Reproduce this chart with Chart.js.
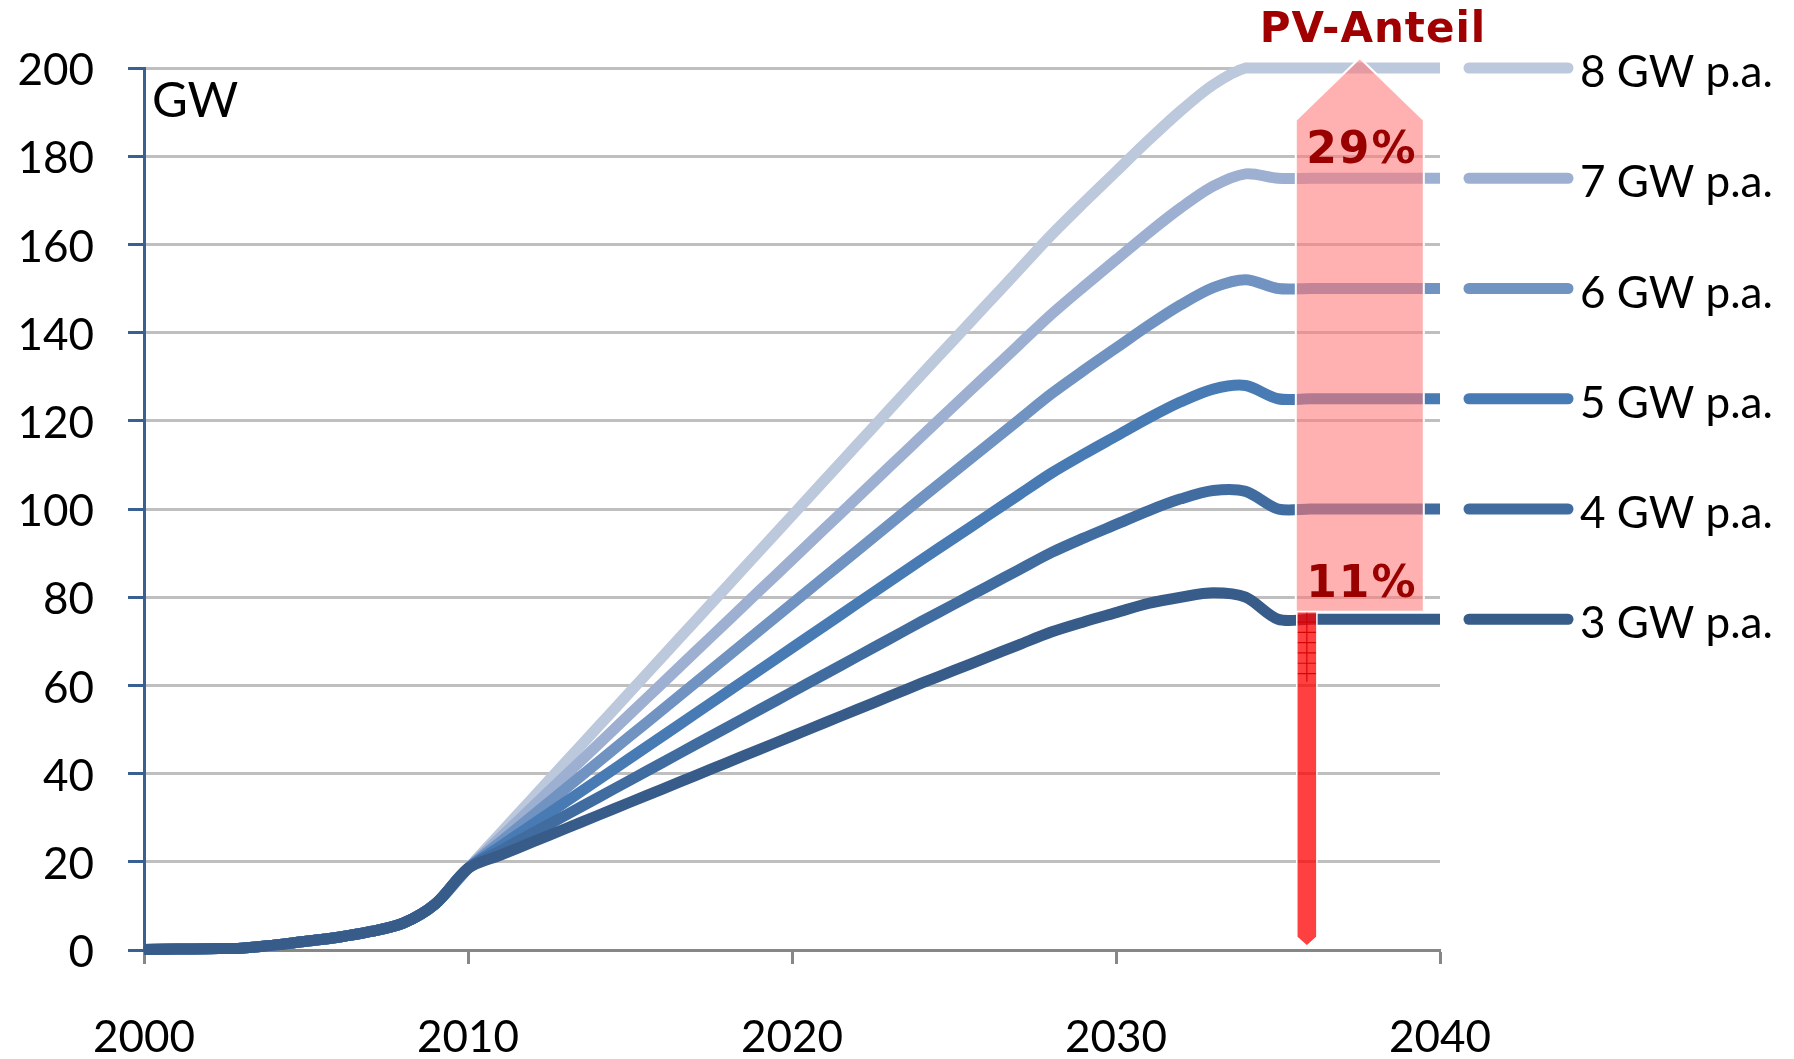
<!DOCTYPE html>
<html lang="de">
<head>
<meta charset="utf-8">
<title>PV-Ausbau</title>
<script src="https://cdn.jsdelivr.net/npm/chart.js@4.4.1/dist/chart.umd.min.js"></script>
<style>
  html, body { margin: 0; padding: 0; background: #ffffff; }
  #wrap { width: 1794px; height: 1059px; }
</style>
</head>
<body>
<div id="wrap"><canvas id="c" width="1794" height="1059"></canvas></div>
<script>
// Years on the x axis
const years = [2000, 2001, 2002, 2003, 2004, 2005, 2006, 2007, 2008, 2009, 2010,
  2011, 2012, 2013, 2014, 2015, 2016, 2017, 2018, 2019, 2020,
  2021, 2022, 2023, 2024, 2025, 2026, 2027, 2028, 2029, 2030,
  2031, 2032, 2033, 2034, 2035, 2036, 2037, 2038, 2039, 2040];

// Installed PV capacity in GW, 2000–2010 (shared by all scenarios)
const history = [0.1, 0.2, 0.3, 0.4, 1.1, 2.0, 2.9, 4.2, 6.1, 10.5, 18.5];

// Scenarios 2011–2040, by annual additions
const gw3 = [21.5, 24.5, 27.5, 30.5, 33.5, 36.5, 39.5, 42.5, 45.5, 48.5, 51.5, 54.5, 57.5, 60.5,
  63.4, 66.3, 69.2, 72.1, 74.4, 76.5, 78.6, 80.0, 81.0, 80.0, 75, 75, 75, 75, 75, 75];
const gw4 = [22.5, 26.5, 30.5, 34.5, 38.5, 42.5, 46.5, 50.5, 54.5, 58.5, 62.5, 66.5, 70.5, 74.5,
  78.4, 82.3, 86.2, 90.1, 93.4, 96.5, 99.6, 102.3, 104.2, 104.0, 100, 100, 100, 100, 100, 100];
const gw5 = [23.5, 28.5, 33.5, 38.5, 43.5, 48.5, 53.5, 58.5, 63.5, 68.5, 73.5, 78.5, 83.5, 88.5,
  93.4, 98.3, 103.2, 108.1, 112.4, 116.5, 120.6, 124.3, 127.2, 128.0, 125, 125, 125, 125, 125, 125];
const gw6 = [24.5, 30.5, 36.5, 42.5, 48.5, 54.5, 60.5, 66.5, 72.5, 78.5, 84.5, 90.5, 96.5, 102.5,
  108.4, 114.3, 120.2, 126.1, 131.4, 136.5, 141.6, 146.3, 150.2, 152.0, 150, 150, 150, 150, 150, 150];
const gw7 = [25.5, 32.5, 39.5, 46.5, 53.5, 60.5, 67.5, 74.5, 81.5, 88.5, 95.5, 102.5, 109.5, 116.5,
  123.4, 130.3, 137.2, 144.1, 150.4, 156.5, 162.6, 168.3, 173.2, 176.0, 175, 175, 175, 175, 175, 175];
const gw8 = [26.5, 34.5, 42.5, 50.5, 58.5, 66.5, 74.5, 82.5, 90.5, 98.5, 106.5, 114.5, 122.5, 130.5,
  138.4, 146.3, 154.2, 162.1, 169.4, 176.5, 183.6, 190.3, 196.2, 200.0, 200, 200, 200, 200, 200, 200];

const seriesLabels = ['3 GW p.a.', '4 GW p.a.', '5 GW p.a.', '6 GW p.a.', '7 GW p.a.', '8 GW p.a.'];
const seriesValues = [gw3, gw4, gw5, gw6, gw7, gw8];
const seriesColors = ['#385C8A', '#406CA0', '#487AB4', '#7093C2', '#9DB0D1', '#BCC8DC'];

// Axis ticks
const yTicks = [0, 20, 40, 60, 80, 100, 120, 140, 160, 180, 200];
const xTicks = [2000, 2010, 2020, 2030, 2040];

// PV share labels: lowest and highest scenario
const shareTitle = 'PV-Anteil';
const shareLabels = ['11%', '29%'];

const LABEL_FONT = '44px Lato, "Open Sans", sans-serif';
const LINE_WIDTH = 11;

const datasets = seriesValues.map((vals, i) => ({
  label: seriesLabels[i],
  data: history.concat(vals).map((v, k) => ({ x: years[k], y: v })),
  borderColor: seriesColors[i],
  borderWidth: LINE_WIDTH,
  pointRadius: 0,
  tension: 0.3,
  fill: false,
  clip: false
}));

// Legend entries at each line's end, arrows and share labels
const overlay = {
  id: 'overlay',
  afterDatasetsDraw(chart) {
    const { ctx, scales: { x, y } } = chart;
    const low = gw3[gw3.length - 1];
    const high = gw8[gw8.length - 1];

    ctx.save();
    // wide translucent arrow from the lowest to the highest scenario
    const xl = x.getPixelForValue(2035.55);
    const xr = x.getPixelForValue(2039.5);
    const xm = (xl + xr) / 2;
    const yb = y.getPixelForValue(low) - 7.5;
    const yt = y.getPixelForValue(high) - 10;
    const ys = yt + 62;
    ctx.beginPath();
    ctx.moveTo(xl, yb);
    ctx.lineTo(xl, ys);
    ctx.lineTo(xm, yt);
    ctx.lineTo(xr, ys);
    ctx.lineTo(xr, yb);
    ctx.closePath();
    ctx.fillStyle = 'rgba(255,120,120,0.58)';
    ctx.fill();
    ctx.strokeStyle = '#ffffff';
    ctx.lineWidth = 2;
    ctx.stroke();

    // narrow arrow from the lowest scenario down to zero
    const bl = x.getPixelForValue(2035.58);
    const br = x.getPixelForValue(2036.2);
    const bm = (bl + br) / 2;
    const by0 = y.getPixelForValue(0) - 4;
    ctx.beginPath();
    ctx.moveTo(bl, yb);
    ctx.lineTo(br, yb);
    ctx.lineTo(br, by0 - 9);
    ctx.lineTo(bm, by0);
    ctx.lineTo(bl, by0 - 9);
    ctx.closePath();
    ctx.fillStyle = 'rgba(255,0,0,0.75)';
    ctx.fill();
    ctx.strokeStyle = '#ffffff';
    ctx.lineWidth = 1.5;
    ctx.stroke();
    // hatch in the top part of the narrow arrow
    ctx.strokeStyle = 'rgba(210,0,0,0.9)';
    ctx.lineWidth = 1.2;
    ctx.beginPath();
    ctx.moveTo(bm, yb + 1);
    ctx.lineTo(bm, yb + 70);
    for (let k = 1; k <= 6; k++) {
      ctx.moveTo(bl + 1, yb + k * 10.3);
      ctx.lineTo(br - 1, yb + k * 10.3);
    }
    ctx.stroke();

    // share labels
    ctx.fillStyle = '#990000';
    ctx.font = 'bold 44px "DejaVu Sans", Verdana, sans-serif';
    ctx.letterSpacing = '2px';
    ctx.textAlign = 'center';
    ctx.textBaseline = 'middle';
    ctx.fillText(shareLabels[1], xm + 2, ys + 32);
    ctx.fillText(shareLabels[0], xm + 2, yb - 26);
    ctx.restore();
  },
  afterDraw(chart) {
    const { ctx, scales: { y } } = chart;
    ctx.save();
    // title above the arrow
    ctx.fillStyle = '#A00000';
    ctx.font = 'bold 42px "DejaVu Sans", Verdana, sans-serif';
    ctx.letterSpacing = '1px';
    ctx.textAlign = 'center';
    ctx.textBaseline = 'middle';
    ctx.fillText(shareTitle, 1373, 31);
    ctx.letterSpacing = '0px';

    // unit label
    ctx.fillStyle = '#000000';
    ctx.font = '49px Lato, "Open Sans", sans-serif';
    ctx.textAlign = 'left';
    ctx.fillText('GW', 152, 101);

    // legend lines and labels at the final value of each series
    seriesValues.forEach((vals, i) => {
      const py = y.getPixelForValue(vals[vals.length - 1]);
      ctx.strokeStyle = seriesColors[i];
      ctx.lineWidth = LINE_WIDTH;
      ctx.lineCap = 'round';
      ctx.beginPath();
      ctx.moveTo(1469, py);
      ctx.lineTo(1568, py);
      ctx.stroke();
      ctx.fillStyle = '#000000';
      ctx.font = LABEL_FONT;
      ctx.textAlign = 'left';
      ctx.textBaseline = 'middle';
      ctx.fillText(seriesLabels[i], 1580, py + 5);
    });
    ctx.restore();
  }
};

new Chart(document.getElementById('c'), {
  type: 'line',
  data: { datasets },
  options: {
    responsive: false,
    animation: false,
    events: [],
    layout: { padding: { top: 68, right: 354, left: 0, bottom: 0 } },
    plugins: { legend: { display: false }, tooltip: { enabled: false } },
    scales: {
      x: {
        type: 'linear',
        min: 2000,
        max: 2040,
        afterFit(scale) { scale.height = 109; },
        afterBuildTicks(scale) { scale.ticks = xTicks.map(v => ({ value: v })); },
        grid: { drawOnChartArea: false, drawTicks: true, tickLength: 14, tickColor: '#878787', tickWidth: 3 },
        border: { color: '#878787', width: 3 },
        ticks: {
          color: '#000000',
          font: { family: 'Lato, "Open Sans", sans-serif', size: 44 },
          padding: 47,
          maxRotation: 0,
          autoSkip: false,
          callback: v => String(v)
        }
      },
      y: {
        min: 0,
        max: 200,
        afterFit(scale) { scale.width = 144; },
        afterBuildTicks(scale) { scale.ticks = yTicks.map(v => ({ value: v })); },
        grid: { color: '#BFBFBF', lineWidth: 3, drawTicks: true, tickLength: 16, tickColor: '#3A5F91', tickWidth: 3 },
        border: { color: '#3A5F91', width: 3 },
        ticks: {
          color: '#000000',
          font: { family: 'Lato, "Open Sans", sans-serif', size: 44 },
          padding: 34,
          labelOffset: 3,
          callback: v => String(v)
        }
      }
    }
  },
  plugins: [overlay]
});
</script>
</body>
</html>
